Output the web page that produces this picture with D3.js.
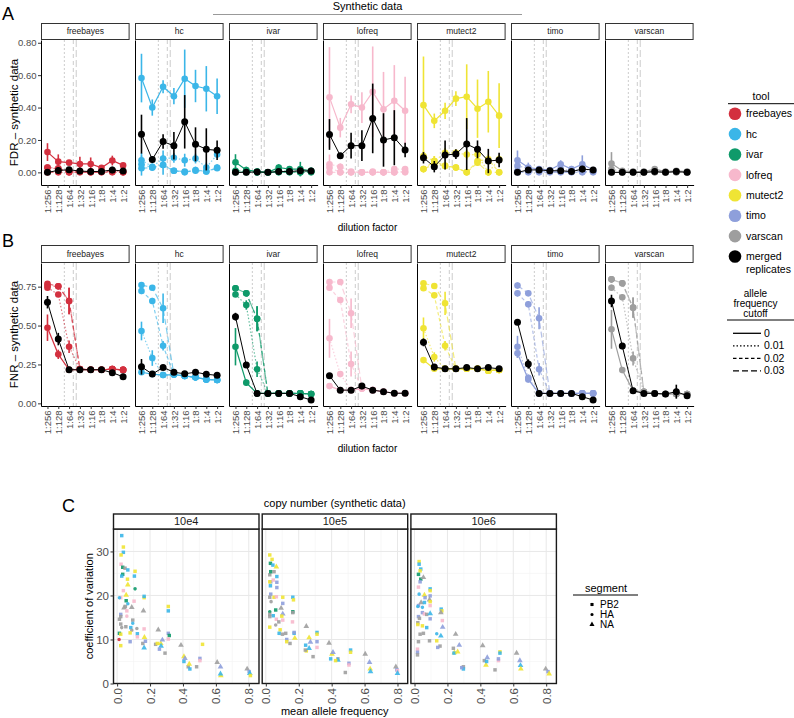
<!DOCTYPE html>
<html><head><meta charset="utf-8">
<script src="https://cdn.jsdelivr.net/npm/d3@7/dist/d3.min.js"></script>
<style>
body{margin:0;background:#fff}
svg{font-family:"Liberation Sans",Arial,Helvetica,sans-serif;display:block}
</style>
</head><body>
<svg id="c" width="794" height="718"></svg>
<script>
// ---------------- data ----------------
const dilutions = ["1:256","1:128","1:64","1:32","1:16","1:8","1:4","1:2"];
const tools = ["freebayes","hc","ivar","lofreq","mutect2","timo","varscan"];
const toolColors = ["#d3303f","#3bb6e8","#0f9a6a","#f7b8cc","#efe434","#8e9fdb","#9e9e9e"];
const cutoffs = ["0","0.01","0.02","0.03"];
// positions (in dilution-axis units, 0 = 1:256) of reference lines for cutoffs 0.01, 0.02, 0.03
const cutoffLinePos = [1.56, 2.39, 2.66];
const fdrTicks = [0, 0.2, 0.4, 0.6, 0.8];
const fnrTicks = [0, 0.25, 0.5, 0.75];

// [facet, series (cutoff or merged), values per dilution, error half-widths]
const fdrSeries = [
 ["freebayes","0",[0.125,0.066,0.060,0.052,0.052,0.028,0.073,0.043],[0.055,0.045,0.012,0.045,0.04,0.015,0.03,0.01]],
 ["freebayes","0.01",[0.030,0.025,0.005,0.005,0.005,0.005,0.010,0.005],null],
 ["freebayes","0.02",[0.030,0.020,0.000,0.005,0.000,0.005,0.005,0.000],null],
 ["freebayes","0.03",[0,0,0,0,0,0,0,0],null],
 ["freebayes","merged",[0.000,0.012,0.016,0.008,0.005,0.006,0.015,0.008],[0.015,0.02,0.015,0.01,0.01,0.01,0.02,0.015]],
 ["hc","0",[0.582,0.400,0.528,0.470,0.578,0.533,0.516,0.470],[0.15,0.05,0.04,0.05,0.18,0.10,0.14,0.11]],
 ["hc","0.01",[0.075,0.035,0.085,0.090,0.075,0.085,0.030,0.110],[0.03,0.02,0.05,0.03,0.04,0.03,0.03,0.02]],
 ["hc","0.02",[0.050,0.030,0.045,0.010,0.000,0.015,0.005,0.030],[0.07,0.02,0.06,0.01,0.01,0.02,0.01,0.02]],
 ["hc","0.03",[0.025,0.030,0.045,0.010,0.005,0.010,0.005,0.025],null],
 ["hc","merged",[0.236,0.080,0.190,0.164,0.312,0.173,0.142,0.136],[0.12,0.02,0.045,0.085,0.165,0.105,0.13,0.06]],
 ["ivar","0",[0.062,0.015,0.005,0.000,0.030,0.020,0.020,0.010],[0.05,0.02,0.01,0.005,0.02,0.015,0.045,0.02]],
 ["ivar","0.01",[0.010,0.008,0.005,0.000,0.010,0.010,0.005,0.005],null],
 ["ivar","0.02",[0.005,0.005,0,0,0.005,0.005,0,0.005],null],
 ["ivar","0.03",[0,0,0,0,0,0,0,0],null],
 ["ivar","merged",[0,0,0.003,0,0.005,0.005,0.010,0.008],null],
 ["lofreq","0",[0.463,0.276,0.420,0.400,0.497,0.390,0.442,0.380],[0.31,0.06,0.055,0.095,0.28,0.23,0.22,0.21]],
 ["lofreq","0.01",[0.050,0.035,0.005,0.000,0.005,0.000,0.020,0.020],[0.06,0.02,0.01,0.005,0.01,0.005,0.015,0.015]],
 ["lofreq","0.02",[0.030,0.000,0.000,0.000,0.000,0.000,0.000,0.005],null],
 ["lofreq","0.03",[0,0,0,0,0,0,0,0],null],
 ["lofreq","merged",[0.234,0.103,0.165,0.165,0.333,0.200,0.214,0.138],[0.095,0.01,0.08,0.095,0.215,0.165,0.17,0.045]],
 ["mutect2","0",[0.415,0.318,0.380,0.455,0.467,0.393,0.436,0.350],[0.30,0.045,0.05,0.045,0.20,0.18,0.19,0.20]],
 ["mutect2","0.01",[0.100,0.070,0.120,0.120,0.110,0.110,0.000,0.080],[0.03,0.03,0.03,0.02,0.03,0.03,0.02,0.03]],
 ["mutect2","0.02",[0.020,0.070,0.040,0.030,0.000,0.070,0.080,0.000],[0.02,0.03,0.02,0.02,0.01,0.03,0.03,0.01]],
 ["mutect2","0.03",[0.020,0.050,0.040,0.030,0.000,0.060,0.000,0.000],null],
 ["mutect2","merged",[0.090,0.035,0.107,0.113,0.175,0.142,0.070,0.076],[0.035,0.035,0.09,0.03,0.16,0.055,0.075,0.045]],
 ["timo","0",[0.075,0.030,0.020,0.015,0.050,0.020,0.050,0.015],[0.06,0.03,0.02,0.01,0.025,0.02,0.055,0.01]],
 ["timo","0.01",[0.040,0.025,0.015,0.010,0.020,0.010,0.020,0.010],null],
 ["timo","0.02",[0.010,0.010,0.005,0.005,0.005,0.005,0.005,0.005],null],
 ["timo","0.03",[0,0,0,0,0,0,0,0],null],
 ["timo","merged",[0.000,0.015,0.015,0.010,0.010,0.005,0.020,0.015],[0.005,0.015,0.015,0.01,0.015,0.01,0.02,0.01]],
 ["varscan","0",[0.055,0.010,0.005,0.005,0.020,0.005,0.010,0.005],[0.07,0.01,0.005,0.005,0.01,0.005,0.01,0.005]],
 ["varscan","0.01",[0.020,0.005,0,0,0.010,0,0.005,0],null],
 ["varscan","0.02",[0,0,0,0,0,0,0,0],null],
 ["varscan","0.03",[0,0,0,0,0,0,0,0],null],
 ["varscan","merged",[0,0,0,0,0.005,0,0.005,0],null]
];

const fnrSeries = [
 ["freebayes","0",[0.486,0.315,0.216,0.216,0.216,0.216,0.220,0.215],[0.085,0.03,0.006,0.006,0.006,0.006,0.006,0.006]],
 ["freebayes","0.01",[0.743,0.700,0.364,0.220,0.216,0.216,0.220,0.215],[0.01,0.01,0.04,0.006,0.006,0.006,0.006,0.006]],
 ["freebayes","0.02",[0.755,0.752,0.658,0.220,0.216,0.216,0.220,0.215],[0.01,0.01,0.085,0.006,0.006,0.006,0.006,0.006]],
 ["freebayes","0.03",[0.769,0.752,0.658,0.220,0.216,0.216,0.220,0.215],[0.01,0.01,0.085,0.006,0.006,0.006,0.006,0.006]],
 ["freebayes","merged",[0.650,0.413,0.216,0.216,0.216,0.216,0.197,0.171],[0.04,0.04,0.01,0.005,0.005,0.005,0.01,0.01]],
 ["hc","0",[0.200,0.188,0.182,0.185,0.176,0.167,0.154,0.150],[0.01,0.01,0.01,0.01,0.01,0.01,0.01,0.01]],
 ["hc","0.01",[0.465,0.291,0.182,0.185,0.176,0.167,0.154,0.150],[0.06,0.05,0.01,0.01,0.01,0.01,0.01,0.01]],
 ["hc","0.02",[0.722,0.658,0.370,0.185,0.176,0.167,0.154,0.150],[0.02,0.02,0.03,0.01,0.01,0.01,0.01,0.01]],
 ["hc","0.03",[0.761,0.743,0.611,0.185,0.176,0.167,0.154,0.150],[0.01,0.01,0.095,0.01,0.01,0.01,0.01,0.01]],
 ["hc","merged",[0.235,0.188,0.231,0.200,0.190,0.200,0.187,0.180],[0.05,0.015,0.01,0.015,0.015,0.015,0.015,0.015]],
 ["ivar","0",[0.364,0.133,0.064,0.064,0.064,0.064,0.064,0.060],[0.12,0.02,0.006,0.006,0.006,0.006,0.006,0.006]],
 ["ivar","0.01",[0.700,0.632,0.219,0.064,0.064,0.064,0.064,0.060],[0.01,0.03,0.05,0.006,0.006,0.006,0.006,0.006]],
 ["ivar","0.02",[0.740,0.707,0.544,0.064,0.064,0.064,0.064,0.060],[0.02,0.01,0.08,0.006,0.006,0.006,0.006,0.006]],
 ["ivar","0.03",[0.740,0.707,0.544,0.064,0.064,0.064,0.064,0.060],[0.02,0.01,0.08,0.006,0.006,0.006,0.006,0.006]],
 ["ivar","merged",[0.557,0.246,0.064,0.064,0.064,0.064,0.043,0.021],[0.025,0.01,0.006,0.006,0.006,0.006,0.006,0.006]],
 ["lofreq","0",[0.111,0.085,0.085,0.095,0.085,0.075,0.065,0.065],[0.01,0.01,0.01,0.01,0.01,0.01,0.01,0.01]],
 ["lofreq","0.01",[0.418,0.188,0.085,0.095,0.085,0.075,0.065,0.065],[0.125,0.01,0.01,0.01,0.01,0.01,0.01,0.01]],
 ["lofreq","0.02",[0.743,0.664,0.253,0.095,0.085,0.075,0.065,0.065],[0.02,0.02,0.08,0.01,0.01,0.01,0.01,0.01]],
 ["lofreq","0.03",[0.780,0.780,0.579,0.095,0.085,0.075,0.065,0.065],[0.02,0.01,0.095,0.01,0.01,0.01,0.01,0.01]],
 ["lofreq","merged",[0.178,0.085,0.085,0.111,0.085,0.075,0.065,0.065],[0.015,0.01,0.01,0.02,0.01,0.015,0.01,0.01]],
 ["mutect2","0",[0.278,0.222,0.222,0.222,0.222,0.222,0.210,0.215],[0.01,0.01,0.01,0.01,0.01,0.01,0.01,0.01]],
 ["mutect2","0.01",[0.482,0.298,0.222,0.222,0.222,0.222,0.210,0.215],[0.07,0.03,0.01,0.01,0.01,0.01,0.01,0.01]],
 ["mutect2","0.02",[0.740,0.694,0.370,0.222,0.222,0.222,0.210,0.215],[0.01,0.01,0.03,0.01,0.01,0.01,0.01,0.01]],
 ["mutect2","0.03",[0.772,0.754,0.643,0.222,0.222,0.222,0.210,0.215],[0.01,0.01,0.075,0.01,0.01,0.01,0.01,0.01]],
 ["mutect2","merged",[0.392,0.233,0.222,0.222,0.230,0.222,0.230,0.222],[0.025,0.02,0.01,0.01,0.015,0.01,0.015,0.01]],
 ["timo","0",[0.322,0.154,0.064,0.064,0.064,0.064,0.064,0.064],[0.03,0.02,0.006,0.006,0.006,0.006,0.006,0.006]],
 ["timo","0.01",[0.364,0.165,0.064,0.064,0.064,0.064,0.064,0.064],[0.07,0.02,0.006,0.006,0.006,0.006,0.006,0.006]],
 ["timo","0.02",[0.707,0.637,0.219,0.064,0.064,0.064,0.064,0.064],[0.02,0.02,0.04,0.006,0.006,0.006,0.006,0.006]],
 ["timo","0.03",[0.757,0.707,0.547,0.064,0.064,0.064,0.064,0.064],[0.02,0.01,0.07,0.006,0.006,0.006,0.006,0.006]],
 ["timo","merged",[0.521,0.253,0.064,0.064,0.064,0.064,0.043,0.021],[0.01,0.03,0.006,0.006,0.006,0.006,0.006,0.006]],
 ["varscan","0",[0.476,0.214,0.081,0.075,0.064,0.060,0.060,0.060],[0.125,0.02,0.01,0.01,0.01,0.01,0.01,0.01]],
 ["varscan","0.01",[0.743,0.682,0.289,0.075,0.064,0.060,0.060,0.060],[0.02,0.02,0.045,0.01,0.01,0.01,0.01,0.01]],
 ["varscan","0.02",[0.797,0.772,0.615,0.075,0.064,0.060,0.060,0.060],[0.02,0.02,0.065,0.01,0.01,0.01,0.01,0.01]],
 ["varscan","0.03",[0.797,0.772,0.615,0.075,0.064,0.060,0.060,0.060],[0.02,0.02,0.065,0.01,0.01,0.01,0.01,0.01]],
 ["varscan","merged",[0.658,0.368,0.081,0.064,0.064,0.060,0.075,0.049],[0.04,0.02,0.01,0.01,0.01,0.01,0.045,0.01]]
];

// panel C: [mean allele frequency, coefficient of variation, tool index, segment index]
const segments = ["PB2","HA","NA"];
const copyNumbers = ["10e4","10e5","10e6"];
const cvTicksX = [0, 0.2, 0.4, 0.6, 0.8];
const cvTicksY = [0, 10, 20, 30];
const cv10e4 = [
 [0.028,33.6,1,0],[0.038,31,4,0],[0.038,29.8,1,0],[0.024,29.2,4,0],[0.024,27.1,3,0],[0.034,26.4,2,0],[0.048,26.2,6,0],
 [0.034,24.8,2,0],[0.028,24.4,1,0],[0.065,25.8,1,0],[0.109,25.5,4,0],[0.105,24.4,1,0],[0.063,23.7,4,0],[0.065,22.4,4,2],
 [0.109,21.5,2,1],[0.038,21.1,3,0],[0.022,19.5,3,0],[0.014,19.5,1,1],[0.055,20.1,4,2],[0.055,18.8,2,0],[0.065,18.1,1,1],
 [0.103,18.7,3,0],[0.164,19.5,4,0],[0.164,19.8,1,0],[0.05,17.5,6,0],[0.042,17.2,6,2],[0.089,17.3,6,2],[0.059,16.5,3,0],
 [0.16,16.5,6,2],[0.022,15.7,5,0],[0.022,15.2,6,0],[0.059,15.3,3,1],[0.014,14.6,6,0],[0.095,14.4,6,0],[0.095,13.7,1,1],
 [0.12,12.5,6,1],[0.164,12.4,3,0],[0.083,12.7,1,0],[0.022,13.5,6,0],[0.028,12.7,6,1],[0.053,12.9,6,0],[0.089,12.1,6,1],
 [0.079,11.5,4,0],[0.123,11.3,1,0],[0.014,11.4,2,0],[0.022,11.2,4,0],[0.012,10.0,0,1],[0.022,8.6,4,0],[0.079,9.5,5,0],
 [0.123,10.6,3,0],[0.156,9.1,6,0],[0.166,10.5,4,2],[0.164,8.1,1,2],[0.172,9.6,5,0],[0.25,12.2,6,2],[0.234,8.9,6,0],
 [0.244,9.1,4,0],[0.265,9.1,4,2],[0.267,8.5,1,2],[0.257,7.8,5,0],[0.275,9.9,5,2],[0.291,6.9,6,0],[0.311,17.5,4,0],
 [0.311,16.5,1,0],[0.311,11.4,5,0],[0.317,10.9,2,0],[0.311,10.1,3,0],[0.388,8.7,6,2],[0.406,6.1,4,2],[0.406,5.0,1,0],
 [0.412,5.7,5,2],[0.432,3.8,6,0],[0.438,4.4,4,2],[0.442,3.3,1,0],[0.483,3.8,6,0],[0.503,5.7,5,0],[0.503,5.2,3,0],
 [0.519,8.9,4,0],[0.608,4.8,6,2],[0.628,3.8,5,2],[0.63,1.8,4,2],[0.628,2.2,1,2],[0.79,3.3,6,2],[0.802,2.7,5,0],
 [0.806,2.3,1,2],[0.81,1.8,4,0]
];
const cv10e5 = [
 [0.024,29.2,4,0],[0.038,28.2,4,0],[0.028,27.3,2,0],[0.043,26.9,1,0],[0.064,26.5,4,2],[0.024,24.7,6,0],[0.03,25.4,2,0],
 [0.05,25.4,6,0],[0.067,24.3,1,0],[0.03,23.1,5,0],[0.045,23.5,3,0],[0.028,22.2,1,0],[0.024,23.1,4,0],[0.067,23.0,5,0],
 [0.067,21.8,5,0],[0.03,20.3,5,0],[0.024,19.6,6,0],[0.05,19.6,4,0],[0.064,19.7,3,0],[0.103,19.6,4,0],[0.164,19.6,1,0],
 [0.168,19.0,4,0],[0.032,18.6,6,1],[0.103,18.2,5,0],[0.093,17.1,6,2],[0.024,16.3,2,1],[0.06,16.7,2,0],[0.024,15.7,6,0],
 [0.045,15.4,1,0],[0.103,15.8,5,2],[0.097,15.3,4,0],[0.164,16.3,2,0],[0.164,16.1,6,0],[0.024,15.2,6,0],[0.064,14.6,3,0],
 [0.103,14.4,3,0],[0.079,14.0,6,0],[0.162,14.0,3,0],[0.06,13.3,6,1],[0.024,12.8,4,0],[0.087,12.2,4,0],[0.081,11.4,1,0],
 [0.101,11.2,6,0],[0.121,11.4,6,0],[0.172,11.4,1,0],[0.172,11.6,5,0],[0.127,10.0,5,0],[0.127,9.5,4,0],[0.147,9.1,6,0],
 [0.176,10.3,4,2],[0.246,13.0,6,2],[0.242,8.7,1,0],[0.246,7.4,4,0],[0.24,7.6,6,0],[0.263,10.4,4,2],[0.271,9.4,5,2],
 [0.263,8.0,1,2],[0.287,6.1,6,0],[0.311,11.6,1,0],[0.311,11.2,4,0],[0.311,9.5,5,0],[0.311,8.2,3,0],[0.384,9.2,6,2],
 [0.402,6.7,4,2],[0.394,5.6,1,0],[0.408,7.1,5,2],[0.438,5.6,6,0],[0.438,5.3,1,2],[0.424,5.2,4,0],[0.483,2.5,6,0],
 [0.505,4.6,5,0],[0.505,4.2,3,0],[0.515,7.6,1,0],[0.515,7.1,4,0],[0.604,6.7,6,2],[0.63,4.8,5,2],[0.634,3.3,4,2],
 [0.636,2.7,1,2],[0.79,3.8,6,2],[0.796,3.1,5,0],[0.8,2.9,3,0],[0.8,2.3,1,2]
];
const cv10e6 = [
 [0.028,27.7,4,0],[0.028,27.1,1,0],[0.038,26.0,1,0],[0.034,25.6,4,0],[0.024,24.8,2,0],[0.038,23.7,2,0],[0.054,24.1,6,2],
 [0.034,23.1,5,0],[0.024,21.9,3,0],[0.095,21.5,1,0],[0.095,21.1,4,0],[0.028,20.3,1,1],[0.06,20.1,4,2],[0.064,19.5,5,0],
 [0.095,19.9,5,0],[0.091,19.0,6,2],[0.095,18.6,4,0],[0.04,18.4,6,2],[0.06,18.4,1,0],[0.024,17.7,5,0],[0.02,17.5,1,1],
 [0.048,17.3,1,1],[0.095,17.7,3,0],[0.162,16.9,1,0],[0.166,16.5,4,0],[0.16,16.1,6,2],[0.048,16.1,5,0],[0.06,15.8,3,0],
 [0.074,15.7,6,0],[0.024,15.2,5,0],[0.03,14.8,6,0],[0.095,15.9,1,2],[0.095,14.7,5,0],[0.169,14.3,3,0],[0.02,13.8,6,0],
 [0.02,13.4,4,0],[0.048,13.1,4,0],[0.074,12.7,1,0],[0.171,12.8,5,2],[0.034,11.2,6,0],[0.054,11.4,6,0],[0.135,11.3,1,1],
 [0.16,10.8,1,2],[0.024,9.5,6,0],[0.091,9.7,6,0],[0.135,9.7,4,0],[0.155,8.5,6,0],[0.141,8.2,5,0],[0.018,7.8,3,0],
 [0.018,7.1,5,0],[0.018,6.5,6,0],[0.25,11.2,6,2],[0.272,8.7,5,2],[0.236,8.0,6,0],[0.242,7.0,4,2],[0.24,6.9,1,0],
 [0.262,7.2,4,2],[0.297,3.8,6,0],[0.297,3.3,1,0],[0.287,3.6,5,0],[0.414,8.6,6,2],[0.424,5.2,6,0],[0.434,4.2,4,2],
 [0.442,5.9,5,2],[0.438,5.0,1,0],[0.489,3.1,6,0],[0.51,5.2,3,0],[0.51,5.6,5,0],[0.519,7.2,4,0],[0.519,6.9,1,0],
 [0.62,6.9,6,2],[0.64,5.2,5,2],[0.644,4.1,1,2],[0.646,3.3,4,2],[0.797,3.3,6,2],[0.811,2.7,5,0],[0.818,2.2,4,2]
];

// ---------------- drawing ----------------
const svg = d3.select("#c");
const GREY_TXT = "#4d4d4d";
const cutoffDash = {"0":null,"0.01":"1.5,2","0.02":"3.5,2.5","0.03":"6,3","merged":null};
const refDash = ["2,2","4,3","7,3"];
const FX0 = 41, FSTEP = 94, FW = 88.6;

function dilutionPanel(series, o){
  tools.forEach((tool,i)=>{
    const x0 = FX0 + i*FSTEP;
    const x = d3.scalePoint().domain(dilutions).range([x0, x0+FW]).padding(0.6);
    const step = x.step();
    const y = d3.scaleLinear().domain(o.yDomain).range([o.bottom, o.top]);
    const g = svg.append("g");
    // strip
    g.append("rect").attr("x",x0+0.5).attr("y",o.stripTop+0.5).attr("width",FW-1).attr("height",o.top-o.stripTop-1)
      .attr("fill","#fff").attr("stroke","#333").attr("stroke-width",1);
    g.append("text").attr("x",x0+FW/2).attr("y",(o.stripTop+o.top)/2).attr("dy","0.35em")
      .attr("text-anchor","middle").attr("font-size",8.5).attr("fill","#1a1a1a").text(tool);
    // reference lines for cutoffs
    cutoffLinePos.forEach((p,k)=>{
      const xx = x(dilutions[0]) + p*step;
      g.append("line").attr("x1",xx).attr("x2",xx).attr("y1",o.top).attr("y2",o.bottom)
        .attr("stroke","#cccccc").attr("stroke-width",1).attr("stroke-dasharray",refDash[k]);
    });
    // series
    const rows = series.filter(r=>r[0]===tool);
    ["0.03","0.02","0.01","0","merged"].forEach(c=>{
      const r = rows.find(rr=>rr[1]===c); if(!r) return;
      const col = c==="merged" ? "#000" : toolColors[i];
      const dash = cutoffDash[c];
      const pts = r[2].map((v,j)=>({d:dilutions[j], v, e: r[3] ? r[3][j] : 0.008}));
      g.append("path").attr("d", d3.line().x(p=>x(p.d)).y(p=>y(p.v))(pts))
        .attr("fill","none").attr("stroke",col).attr("stroke-width", c==="merged"?1:1.2)
        .attr("stroke-opacity", dash?0.65:1).attr("stroke-dasharray",dash);
      g.selectAll(null).data(pts).join("line")
        .attr("x1",p=>x(p.d)).attr("x2",p=>x(p.d)).attr("y1",p=>y(p.v-p.e)).attr("y2",p=>y(p.v+p.e))
        .attr("stroke",col).attr("stroke-width",1.6);
      g.selectAll(null).data(pts).join("circle")
        .attr("cx",p=>x(p.d)).attr("cy",p=>y(p.v)).attr("r", c==="merged"?3.5:3.3).attr("fill",col);
    });
    // x axis
    const ax = g.append("g").attr("transform",`translate(0,${o.bottom})`)
      .call(d3.axisBottom(x).tickSize(3).tickSizeOuter(0));
    ax.select(".domain").attr("stroke","#000").attr("stroke-width",1);
    ax.selectAll(".tick line").attr("stroke","#333");
    ax.selectAll(".tick text").attr("font-size",9.5).attr("fill",GREY_TXT).attr("font-family",null)
      .attr("text-anchor","end").attr("transform","rotate(-90)").attr("x",-4.5).attr("y",0).attr("dy","0.35em");
    // y axis
    const ay = g.append("g").attr("transform",`translate(${x0},0)`)
      .call(d3.axisLeft(y).tickValues(i===0?o.ticks:[]).tickFormat(d3.format(".2f")).tickSize(3).tickSizeOuter(0));
    ay.select(".domain").attr("stroke","#000").attr("stroke-width",1);
    ay.selectAll(".tick line").attr("stroke","#333");
    ay.selectAll(".tick text").attr("font-size",9.5).attr("fill",GREY_TXT).attr("font-family",null).attr("x",-4.5);
  });
  // titles
  svg.append("text").attr("transform",`translate(18,${(o.top+o.bottom)/2}) rotate(-90)`)
    .attr("text-anchor","middle").attr("font-size",11.5).attr("fill","#000").text(o.yTitle);
  svg.append("text").attr("x",367.5).attr("y",o.xTitleY).attr("text-anchor","middle")
    .attr("font-size",10).attr("fill","#000").text("dilution factor");
  svg.append("text").attr("x",2).attr("y",o.tagY).attr("font-size",18).attr("fill","#000").text(o.tag);
}

// Synthetic data header
svg.append("text").attr("x",367.5).attr("y",10).attr("text-anchor","middle").attr("font-size",11).text("Synthetic data");
svg.append("line").attr("x1",213).attr("x2",522).attr("y1",14.5).attr("y2",14.5).attr("stroke","#999").attr("stroke-width",1);

dilutionPanel(fdrSeries,{stripTop:23,top:40,bottom:185,yDomain:[-0.078,0.817],ticks:fdrTicks,
  yTitle:"FDR \u2013 synthetic data",xTitleY:231,tag:"A",tagY:20});
dilutionPanel(fnrSeries,{stripTop:245,top:263,bottom:406,yDomain:[-0.017,0.902],ticks:fnrTicks,
  yTitle:"FNR \u2013 synthetic data",xTitleY:452,tag:"B",tagY:247});

// tool legend
(function(){
  const g = svg.append("g");
  g.append("text").attr("x",761).attr("y",100).attr("text-anchor","middle").attr("font-size",10.5).text("tool");
  g.append("line").attr("x1",728).attr("x2",794).attr("y1",103.7).attr("y2",103.7).attr("stroke","#000").attr("stroke-width",1);
  const items = tools.map((t,i)=>({label:[t],col:toolColors[i]})).concat([{label:["merged","replicates"],col:"#000"}]);
  items.forEach((it,k)=>{
    const cy = 113.7 + k*20.4;
    g.append("circle").attr("cx",735).attr("cy",cy).attr("r",6.3).attr("fill",it.col);
    it.label.forEach((l,j)=>g.append("text").attr("x",746).attr("y",cy+j*13).attr("dy","0.35em")
      .attr("font-size",10.5).text(l));
  });
  ["allele","frequency","cutoff"].forEach((l,j)=>g.append("text").attr("x",755.5).attr("y",296.5+j*10)
    .attr("text-anchor","middle").attr("font-size",10).text(l));
  g.append("line").attr("x1",727).attr("x2",794).attr("y1",320).attr("y2",320).attr("stroke","#000").attr("stroke-width",1);
  cutoffs.forEach((c,k)=>{
    const yy = 333.3 + k*12.5;
    g.append("line").attr("x1",733).attr("x2",761).attr("y1",yy).attr("y2",yy).attr("stroke","#000")
      .attr("stroke-width",1.3).attr("stroke-dasharray",cutoffDash[c]);
    g.append("text").attr("x",764).attr("y",yy).attr("dy","0.35em").attr("font-size",10.5).text(c);
  });
})();

// ---------------- panel C ----------------
(function(){
  const CX0 = 113.5, CSTEP = 148.7, CW = 145.5, top = 529, bottom = 683.5, stripTop = 514;
  const y = d3.scaleLinear().domain([0,35.1]).range([bottom, top]);
  const cvData = [cv10e4, cv10e5, cv10e6];
  const shape = [d3.symbolSquare, d3.symbolCircle, d3.symbolTriangle];
  const sizes = [12, 10, 14];
  copyNumbers.forEach((cn,i)=>{
    const x0 = CX0 + i*CSTEP;
    const x = d3.scaleLinear().domain([-0.022,0.862]).range([x0, x0+CW]);
    const g = svg.append("g");
    // grid
    [0.1,0.3,0.5,0.7].forEach(v=>g.append("line").attr("x1",x(v)).attr("x2",x(v)).attr("y1",top).attr("y2",bottom).attr("stroke","#f4f4f4").attr("stroke-width",0.6));
    [5,15,25].forEach(v=>g.append("line").attr("x1",x0).attr("x2",x0+CW).attr("y1",y(v)).attr("y2",y(v)).attr("stroke","#f4f4f4").attr("stroke-width",0.6));
    cvTicksX.forEach(v=>g.append("line").attr("x1",x(v)).attr("x2",x(v)).attr("y1",top).attr("y2",bottom).attr("stroke","#e8e8e8").attr("stroke-width",1));
    cvTicksY.forEach(v=>g.append("line").attr("x1",x0).attr("x2",x0+CW).attr("y1",y(v)).attr("y2",y(v)).attr("stroke","#e8e8e8").attr("stroke-width",1));
    // points
    g.selectAll(null).data(cvData[i]).join("path")
      .attr("transform",d=>`translate(${x(d[0])},${y(d[1])})`)
      .attr("d",d=>d3.symbol().type(shape[d[3]]).size(sizes[d[3]])())
      .attr("fill",d=>toolColors[d[2]]).attr("fill-opacity",0.9);
    // border
    g.append("rect").attr("x",x0).attr("y",top).attr("width",CW).attr("height",bottom-top)
      .attr("fill","none").attr("stroke","#1a1a1a").attr("stroke-width",1.4);
    // strip
    g.append("rect").attr("x",x0).attr("y",stripTop).attr("width",CW).attr("height",top-stripTop)
      .attr("fill","#fff").attr("stroke","#1a1a1a").attr("stroke-width",1.4);
    g.append("text").attr("x",x0+CW/2).attr("y",(stripTop+top)/2).attr("dy","0.36em").attr("text-anchor","middle")
      .attr("font-size",11).attr("fill","#1a1a1a").text(cn);
    // x axis
    const ax = g.append("g").attr("transform",`translate(0,${bottom})`)
      .call(d3.axisBottom(x).tickValues(cvTicksX).tickFormat(d3.format(".1f")).tickSize(3).tickSizeOuter(0));
    ax.select(".domain").remove();
    ax.selectAll(".tick line").attr("stroke","#333");
    ax.selectAll(".tick text").attr("font-size",11.5).attr("fill",GREY_TXT).attr("font-family",null)
      .attr("text-anchor","end").attr("transform","rotate(-90)").attr("x",-4.5).attr("y",0).attr("dy","0.35em");
    if(i===0){
      const ay = g.append("g").attr("transform",`translate(${x0},0)`)
        .call(d3.axisLeft(y).tickValues(cvTicksY).tickSize(3).tickSizeOuter(0));
      ay.select(".domain").remove();
      ay.selectAll(".tick line").attr("stroke","#333");
      ay.selectAll(".tick text").attr("font-size",11.5).attr("fill",GREY_TXT).attr("font-family",null).attr("x",-4.5);
    }
  });
  svg.append("text").attr("x",334.7).attr("y",507).attr("text-anchor","middle").attr("font-size",11).text("copy number (synthetic data)");
  svg.append("text").attr("x",334.7).attr("y",715).attr("text-anchor","middle").attr("font-size",11).text("mean allele frequency");
  svg.append("text").attr("transform",`translate(93,${(top+bottom)/2}) rotate(-90)`).attr("text-anchor","middle")
    .attr("font-size",11).text("coefficient of variation");
  svg.append("text").attr("x",62).attr("y",512).attr("font-size",18).text("C");
  // segment legend
  const lg = svg.append("g");
  lg.append("text").attr("x",606).attr("y",592).attr("text-anchor","middle").attr("font-size",11).text("segment");
  lg.append("line").attr("x1",573).attr("x2",638).attr("y1",595).attr("y2",595).attr("stroke","#000").attr("stroke-width",1);
  segments.forEach((s,k)=>{
    const yy = 604.5 + k*10;
    lg.append("path").attr("transform",`translate(592,${yy})`).attr("d",d3.symbol().type(shape[k]).size(sizes[k]*0.8)()).attr("fill","#000");
    lg.append("text").attr("x",600).attr("y",yy).attr("dy","0.35em").attr("font-size",10).text(s);
  });
})();
</script>
</body></html>
